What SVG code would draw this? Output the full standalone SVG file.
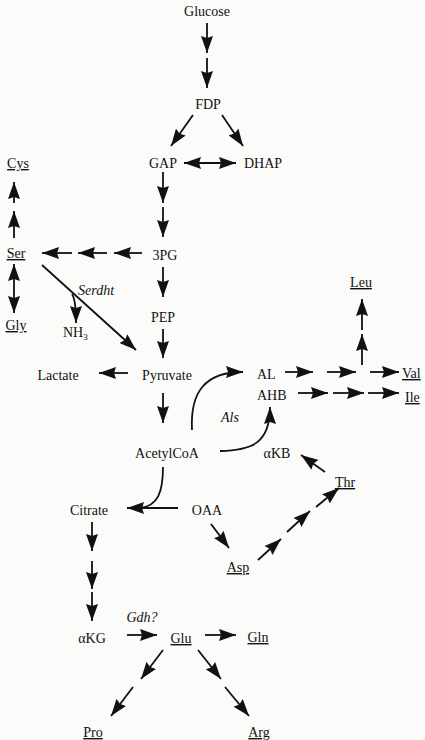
<svg xmlns="http://www.w3.org/2000/svg" width="425" height="740" viewBox="0 0 425 740">
<defs>
<marker id="ah" viewBox="0 0 17 12" refX="17" refY="6" markerWidth="17" markerHeight="12" markerUnits="userSpaceOnUse" orient="auto-start-reverse">
<path d="M0,0 L17,6 L0,12 L2,6 z" fill="#111"/>
</marker>
<style>
text{font-family:'Liberation Serif','Times New Roman',serif;font-size:14px;fill:#111;}
.c{text-anchor:middle;}
.u{text-decoration:underline;}
.i{font-style:italic;}
#connectors line,#connectors path{stroke:#111;stroke-width:1.8;fill:none;}
.a{marker-end:url(#ah);}
.d{marker-start:url(#ah);marker-end:url(#ah);}
</style>
</defs>
<rect width="425" height="740" fill="#fbfbfa"/>
<g id="connectors">
<line class="a" x1="207" y1="23" x2="207" y2="53"/>
<line class="a" x1="207" y1="58" x2="207" y2="88"/>
<line class="a" x1="193" y1="115" x2="171" y2="146"/>
<line class="a" x1="222" y1="115" x2="243" y2="146"/>
<line class="d" x1="184" y1="163" x2="236" y2="163"/>
<line class="a" x1="163" y1="172" x2="163" y2="203"/>
<line class="a" x1="163" y1="207" x2="163" y2="237"/>
<line class="a" x1="72" y1="253" x2="42" y2="253"/>
<line class="a" x1="107" y1="253" x2="78" y2="253"/>
<line class="a" x1="142" y1="253" x2="114" y2="253"/>
<line class="a" x1="14" y1="203" x2="14" y2="182"/>
<line class="a" x1="14" y1="238" x2="14" y2="211"/>
<line class="d" x1="14" y1="264" x2="14" y2="313"/>
<line class="a" x1="42" y1="265" x2="136" y2="350"/>
<path class="a" d="M72,294 Q76,300 76,323"/>
<line class="a" x1="163" y1="267" x2="163" y2="297"/>
<line class="a" x1="163" y1="329" x2="163" y2="358"/>
<line class="a" x1="128" y1="373" x2="99" y2="373"/>
<line class="a" x1="163" y1="393" x2="163" y2="423"/>
<path class="a" d="M192,430 C190,392 205,372 243,372"/>
<path class="a" d="M220,451 C250,450 270,445 270,407"/>
<line class="a" x1="285" y1="372" x2="313" y2="372"/>
<line class="a" x1="327" y1="372" x2="356" y2="372"/>
<line class="a" x1="370" y1="372" x2="399" y2="372"/>
<line class="a" x1="362" y1="365" x2="362" y2="334"/>
<line class="a" x1="362" y1="330" x2="362" y2="299"/>
<line class="a" x1="298" y1="393" x2="328" y2="393"/>
<line class="a" x1="333" y1="393" x2="364" y2="393"/>
<line class="a" x1="368" y1="393" x2="399" y2="393"/>
<line class="a" x1="325" y1="472" x2="301" y2="455"/>
<line class="a" x1="258" y1="560" x2="281" y2="539"/>
<line class="a" x1="287" y1="532" x2="310" y2="511"/>
<line class="a" x1="316" y1="507" x2="339" y2="488"/>
<line class="a" x1="211" y1="524" x2="229" y2="548"/>
<path d="M163,467 C163,492 158,506 140,508"/>
<line class="a" x1="178" y1="508" x2="127" y2="508"/>
<line class="a" x1="92" y1="522" x2="92" y2="551"/>
<line class="a" x1="92" y1="561" x2="92" y2="589"/>
<line class="a" x1="92" y1="592" x2="92" y2="621"/>
<line class="a" x1="127" y1="635" x2="157" y2="635"/>
<line class="a" x1="205" y1="635" x2="236" y2="635"/>
<line class="a" x1="163" y1="650" x2="141" y2="679"/>
<line class="a" x1="133" y1="687" x2="111" y2="716"/>
<line class="a" x1="198" y1="650" x2="221" y2="679"/>
<line class="a" x1="225" y1="687" x2="249" y2="716"/>
</g>
<g font-family="Liberation Serif, serif">
<g id="n-glucose"><text class="c" x="207" y="16">Glucose</text></g>
<g id="n-fdp"><text class="c" x="208" y="109">FDP</text></g>
<g id="n-gap"><text class="c" x="163" y="168">GAP</text></g>
<g id="n-dhap"><text class="c" x="263" y="168">DHAP</text></g>
<g id="n-3pg"><text class="c" x="165" y="260">3PG</text></g>
<g id="n-cys"><text class="c u" x="18" y="168">Cys</text></g>
<g id="n-ser"><text class="c u" x="16" y="258">Ser</text></g>
<g id="n-gly"><text class="c u" x="16" y="330">Gly</text></g>
<g id="n-nh3"><text x="63" y="337">NH<tspan font-size="9" dy="3">3</tspan></text></g>
<g id="l-serdht"><text class="i" x="78" y="295">Serdht</text></g>
<g id="n-pep"><text class="c" x="163" y="322">PEP</text></g>
<g id="n-lactate"><text class="c" x="58" y="380">Lactate</text></g>
<g id="n-pyruvate"><text class="c" x="167" y="380">Pyruvate</text></g>
<g id="n-al"><text x="257" y="379">AL</text></g>
<g id="n-ahb"><text x="257" y="400">AHB</text></g>
<g id="n-val"><text class="u" x="402" y="378">Val</text></g>
<g id="n-ile"><text class="u" x="405" y="402">Ile</text></g>
<g id="n-leu"><text class="c u" x="361" y="287">Leu</text></g>
<g id="l-als"><text class="c i" x="230" y="422">Als</text></g>
<g id="n-acetylcoa"><text class="c" x="167" y="458">AcetylCoA</text></g>
<g id="n-akb"><text class="c" x="277" y="458">αKB</text></g>
<g id="n-thr"><text class="c u" x="345" y="487">Thr</text></g>
<g id="n-citrate"><text class="c" x="89" y="515">Citrate</text></g>
<g id="n-oaa"><text class="c" x="207" y="515">OAA</text></g>
<g id="n-asp"><text class="c u" x="238" y="572">Asp</text></g>
<g id="l-gdh"><text class="c i" x="142" y="622">Gdh?</text></g>
<g id="n-akg"><text class="c" x="92" y="643">αKG</text></g>
<g id="n-glu"><text class="c u" x="181" y="643">Glu</text></g>
<g id="n-gln"><text class="c u" x="258" y="642">Gln</text></g>
<g id="n-pro"><text class="c u" x="93" y="737">Pro</text></g>
<g id="n-arg"><text class="c u" x="259" y="737">Arg</text></g>
</g>
</svg>
